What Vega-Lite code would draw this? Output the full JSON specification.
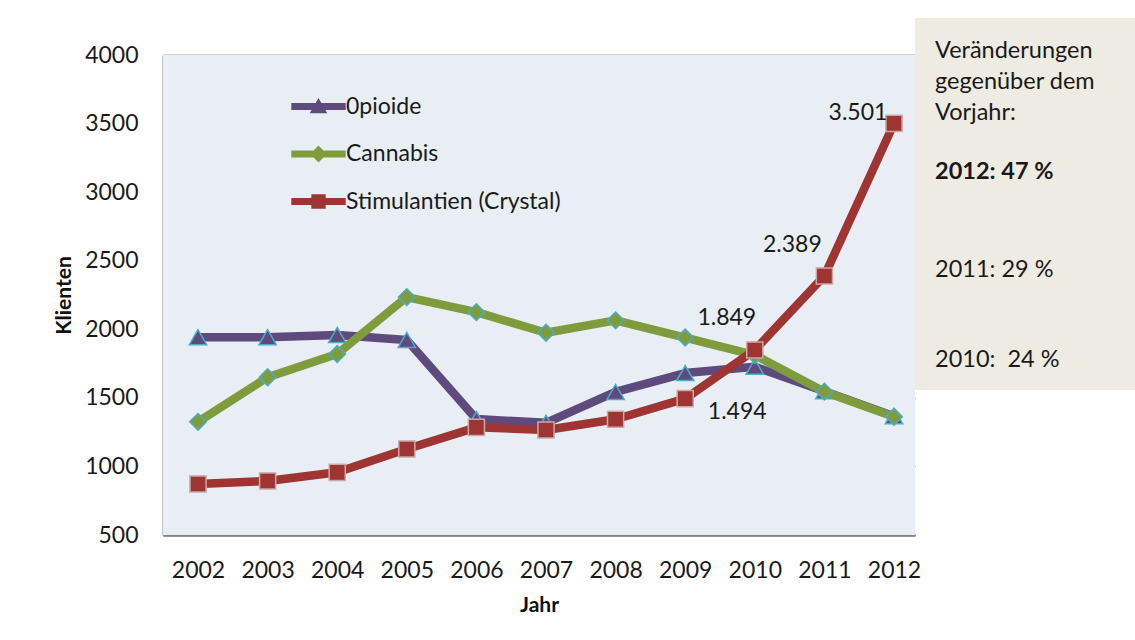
{
  "$schema": "https://vega.github.io/schema/vega-lite/v6.json",
  "background": "white",
  "padding": {"left": 53, "top": 18, "right": 0, "bottom": 0},
  "spacing": 0,
  "bounds": "flush",
  "config": {
    "font": "Lato",
    "locale": {"number": {"decimal": ",", "thousands": ".", "grouping": [3], "currency": ["", " €"]}},
    "axis": {"labelFont": "Lato", "labelFontSize": 23, "labelColor": "#1a1a1a", "titleFont": "Lato", "titleFontSize": 21, "titleFontWeight": "bold", "titleColor": "#111111", "ticks": false},
    "text": {"font": "Lato", "fontSize": 23},
    "legend": {
      "orient": "none", "legendX": 144, "legendY": 77, "padding": 0, "title": null,
      "labelFont": "Lato", "labelFontSize": 23, "labelColor": "#1a1a1a", "labelLimit": 400,
      "symbolSize": 256, "labelOffset": 16, "rowPadding": 23.5
    }
  },
  "datasets": {
    "klienten": [
      {"jahr": 2002, "droge": "0pioide", "anzahl": 1942},
      {"jahr": 2003, "droge": "0pioide", "anzahl": 1942},
      {"jahr": 2004, "droge": "0pioide", "anzahl": 1958},
      {"jahr": 2005, "droge": "0pioide", "anzahl": 1922},
      {"jahr": 2006, "droge": "0pioide", "anzahl": 1345},
      {"jahr": 2007, "droge": "0pioide", "anzahl": 1318},
      {"jahr": 2008, "droge": "0pioide", "anzahl": 1543},
      {"jahr": 2009, "droge": "0pioide", "anzahl": 1681},
      {"jahr": 2010, "droge": "0pioide", "anzahl": 1727},
      {"jahr": 2011, "droge": "0pioide", "anzahl": 1548},
      {"jahr": 2012, "droge": "0pioide", "anzahl": 1366},
      {"jahr": 2002, "droge": "Cannabis", "anzahl": 1325},
      {"jahr": 2003, "droge": "Cannabis", "anzahl": 1650},
      {"jahr": 2004, "droge": "Cannabis", "anzahl": 1820},
      {"jahr": 2005, "droge": "Cannabis", "anzahl": 2235},
      {"jahr": 2006, "droge": "Cannabis", "anzahl": 2125},
      {"jahr": 2007, "droge": "Cannabis", "anzahl": 1975},
      {"jahr": 2008, "droge": "Cannabis", "anzahl": 2065},
      {"jahr": 2009, "droge": "Cannabis", "anzahl": 1940},
      {"jahr": 2010, "droge": "Cannabis", "anzahl": 1812},
      {"jahr": 2011, "droge": "Cannabis", "anzahl": 1545},
      {"jahr": 2012, "droge": "Cannabis", "anzahl": 1362},
      {"jahr": 2002, "droge": "Stimulantien (Crystal)", "anzahl": 872},
      {"jahr": 2003, "droge": "Stimulantien (Crystal)", "anzahl": 894},
      {"jahr": 2004, "droge": "Stimulantien (Crystal)", "anzahl": 957},
      {"jahr": 2005, "droge": "Stimulantien (Crystal)", "anzahl": 1127},
      {"jahr": 2006, "droge": "Stimulantien (Crystal)", "anzahl": 1285},
      {"jahr": 2007, "droge": "Stimulantien (Crystal)", "anzahl": 1266},
      {"jahr": 2008, "droge": "Stimulantien (Crystal)", "anzahl": 1344},
      {"jahr": 2009, "droge": "Stimulantien (Crystal)", "anzahl": 1494},
      {"jahr": 2010, "droge": "Stimulantien (Crystal)", "anzahl": 1849},
      {"jahr": 2011, "droge": "Stimulantien (Crystal)", "anzahl": 2389},
      {"jahr": 2012, "droge": "Stimulantien (Crystal)", "anzahl": 3501}
    ],
    "veraenderung": [
      {"jahr": 2012, "text": "2012: 47 %"},
      {"jahr": 2011, "text": "2011: 29 %"},
      {"jahr": 2010, "text": "2010: \u00a024 %"}
    ]
  },
  "hconcat": [
    {
      "width": 752,
      "height": 517,
      "view": {"fill": null, "stroke": null},
      "layer": [
        {
          "data": {"values": [{"von": 500, "bis": 4000}]},
          "mark": {"type": "rect", "color": "#E8EEF3"},
          "encoding": {
            "y": {"field": "von", "type": "quantitative"},
            "y2": {"field": "bis"}
          }
        },
        {
          "data": {"name": "klienten"},
          "encoding": {
            "x": {
              "field": "jahr", "type": "ordinal",
              "scale": {"type": "point", "padding": 0.4025, "align": 0.625},
              "axis": {"title": "Jahr", "labelAngle": 0, "labelPadding": 24, "titlePadding": 12, "domainColor": "#7F7F7F", "domainWidth": 2.5, "grid": false}
            },
            "y": {
              "field": "anzahl", "type": "quantitative",
              "scale": {"domain": [500, 4000], "range": [517, 37], "nice": false, "zero": false},
              "axis": {"title": "Klienten", "values": [500, 1000, 1500, 2000, 2500, 3000, 3500, 4000], "format": "d", "grid": true, "gridColor": "#A3A3A3", "gridWidth": 2, "domainColor": "#8C8C8C", "domainWidth": 2, "labelPadding": 25, "titlePadding": 10}
            },
            "color": {
              "field": "droge", "type": "nominal",
              "scale": {"domain": ["0pioide", "Cannabis", "Stimulantien (Crystal)"], "range": ["#5F4A7E", "#7F9C3D", "#9E3533"]},
              "legend": {
                "symbolType": "M-3.4,-0.42H3.4V0.42H-3.4Z",
                "encode": {
                  "symbols": {
                    "update": {
                      "shape": {"signal": "datum.value === '0pioide' ? 'M-3.4,-0.45H3.4V0.45H-3.4ZM0,-1.05L1.1,0.85L-1.1,0.85Z' : datum.value === 'Cannabis' ? 'M-3.4,-0.45H3.4V0.45H-3.4ZM0,-1.05L1.05,0L0,1.05L-1.05,0Z' : 'M-3.4,-0.45H3.4V0.45H-3.4ZM-0.9,-0.9H0.9V0.9H-0.9Z'"},
                      "fill": {"signal": "scale('color', datum.value)"},
                      "strokeWidth": {"value": 0},
                      "opacity": {"value": 1}
                    }
                  }
                }
              }
            }
          },
          "layer": [
            {
              "transform": [{"filter": "datum.droge === '0pioide'"}],
              "mark": {"type": "line", "strokeWidth": 8.5, "strokeJoin": "round", "strokeCap": "round"}
            },
            {
              "transform": [{"filter": "datum.droge === '0pioide'"}],
              "mark": {"type": "point", "shape": "triangle-up", "filled": true, "size": 300, "stroke": "#4BACC6", "strokeWidth": 1.5, "opacity": 1}
            },
            {
              "transform": [{"filter": "datum.droge === 'Cannabis'"}],
              "mark": {"type": "line", "strokeWidth": 8.5, "strokeJoin": "round", "strokeCap": "round"}
            },
            {
              "transform": [{"filter": "datum.droge === 'Cannabis'"}],
              "mark": {"type": "point", "shape": "diamond", "filled": true, "size": 280, "stroke": "#4BACC6", "strokeWidth": 1.5, "opacity": 1}
            },
            {
              "transform": [{"filter": "datum.droge === 'Stimulantien (Crystal)'"}],
              "mark": {"type": "line", "strokeWidth": 8.5, "strokeJoin": "round", "strokeCap": "round"}
            },
            {
              "transform": [{"filter": "datum.droge === 'Stimulantien (Crystal)'"}],
              "mark": {"type": "point", "shape": "square", "filled": true, "size": 260, "stroke": "#C9A9A9", "strokeWidth": 1.5, "opacity": 1}
            },
            {
              "transform": [{"filter": "datum.droge === 'Stimulantien (Crystal)' && datum.jahr === 2012"}],
              "mark": {"type": "text", "dx": -36, "dy": -10},
              "encoding": {
                "text": {"field": "anzahl", "type": "quantitative", "format": ",d"},
                "color": {"value": "#1a1a1a"}
              }
            },
            {
              "transform": [{"filter": "datum.droge === 'Stimulantien (Crystal)' && datum.jahr === 2011"}],
              "mark": {"type": "text", "dx": -32, "dy": -31},
              "encoding": {
                "text": {"field": "anzahl", "type": "quantitative", "format": ",d"},
                "color": {"value": "#1a1a1a"}
              }
            },
            {
              "transform": [{"filter": "datum.droge === 'Stimulantien (Crystal)' && datum.jahr === 2010"}],
              "mark": {"type": "text", "dx": -28, "dy": -32},
              "encoding": {
                "text": {"field": "anzahl", "type": "quantitative", "format": ",d"},
                "color": {"value": "#1a1a1a"}
              }
            },
            {
              "transform": [{"filter": "datum.droge === 'Stimulantien (Crystal)' && datum.jahr === 2009"}],
              "mark": {"type": "text", "dx": 52, "dy": 13},
              "encoding": {
                "text": {"field": "anzahl", "type": "quantitative", "format": ",d"},
                "color": {"value": "#1a1a1a"}
              }
            }
          ]
        }
      ]
    },
    {
      "width": 220,
      "height": 372,
      "view": {"fill": "#EEEBE2", "stroke": null},
      "title": {
        "text": ["Veränderungen", "gegenüber dem", "Vorjahr:"],
        "orient": "top", "anchor": "start", "frame": "group",
        "offset": -106, "dx": 20, "font": "Lato", "fontSize": 23.5, "fontWeight": "normal",
        "lineHeight": 31, "color": "#1a1a1a"
      },
      "data": {"name": "veraenderung"},
      "layer": [
        {
          "transform": [{"filter": "datum.jahr === 2012"}],
          "mark": {"type": "text", "align": "left", "dx": -90, "fontWeight": "bold", "fontSize": 23.5, "color": "#1a1a1a"},
          "encoding": {
            "y": {"field": "jahr", "type": "quantitative", "scale": {"domain": [2010, 2011, 2012], "range": [342, 252, 154]}, "axis": null},
            "text": {"field": "text", "type": "nominal"}
          }
        },
        {
          "transform": [{"filter": "datum.jahr !== 2012"}],
          "mark": {"type": "text", "align": "left", "dx": -90, "fontSize": 23.5, "color": "#1a1a1a"},
          "encoding": {
            "y": {"field": "jahr", "type": "quantitative"},
            "text": {"field": "text", "type": "nominal"}
          }
        }
      ]
    }
  ]
}
